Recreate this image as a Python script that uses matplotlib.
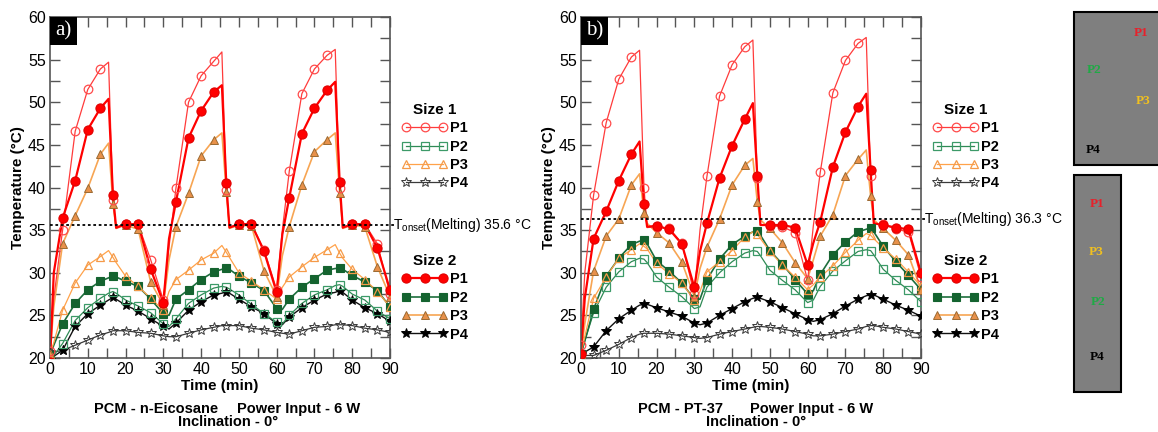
import numpy as np
import matplotlib.pyplot as plt
from matplotlib.lines import Line2D
from matplotlib.patches import Rectangle
from matplotlib.ticker import MultipleLocator

plt.rcParams['font.family'] = ['Liberation Sans', 'DejaVu Sans']

# marker times (one marker every 3.33 min) and extra line knots (peaks, plateau, steep rises)
t_mark = np.arange(28) * 10 / 3
t_extra = [1.0, 15.5, 17.5, 31.5, 45.5, 47.5, 61.5, 75.5, 77.5]

# ---- panel a: n-Eicosane ----
a_s1_p1 = [20.8, 35.0, 46.6, 51.5, 53.9, 38.5, 35.7, 35.7, 31.5, 26.8, 39.9, 50.0, 53.1, 54.8,
           39.7, 35.7, 35.7, 32.7, 28.0, 41.9, 51.0, 53.9, 55.5, 39.9, 35.7, 35.7, 33.4, 27.5]
a_s1_p1_ex = [27.0, 54.7, 35.2, 33.0, 55.9, 35.3, 35.0, 56.2, 35.3]
a_s1_p2 = [19.8, 21.7, 24.4, 25.9, 27.0, 27.8, 26.8, 26.1, 25.3, 24.0, 24.6, 26.4, 27.4, 28.2,
           28.3, 27.4, 26.3, 25.2, 24.2, 25.0, 26.4, 27.4, 28.0, 28.6, 27.5, 26.8, 25.5, 24.6]
a_s1_p2_ex = [20.3, 27.6, 27.6, 23.7, 28.4, 28.1, 24.0, 28.5, 28.4]
a_s1_p3 = [20.5, 25.6, 28.8, 30.9, 31.9, 31.8, 29.6, 28.4, 27.0, 25.6, 29.2, 30.3, 31.5, 32.3,
           32.4, 30.0, 29.0, 28.0, 26.9, 29.5, 30.7, 31.8, 32.7, 32.3, 30.4, 29.2, 27.8, 26.0]
a_s1_p3_ex = [21.8, 32.6, 31.2, 27.8, 33.2, 31.8, 28.3, 33.3, 31.7]
a_s1_p4 = [20.7, 20.9, 21.5, 22.1, 22.7, 23.2, 23.2, 23.0, 22.9, 22.6, 22.5, 22.9, 23.3, 23.6,
           23.8, 23.8, 23.5, 23.3, 23.0, 22.8, 23.2, 23.6, 23.7, 23.9, 23.8, 23.5, 23.3, 23.0]
a_s1_p4_ex = [20.7, 23.0, 23.2, 22.5, 23.8, 23.8, 22.9, 23.9, 23.9]

a_s2_p1 = [19.5, 36.4, 40.8, 46.8, 49.3, 39.1, 35.7, 35.7, 30.4, 26.5, 38.3, 45.8, 49.0, 51.2,
           40.5, 35.7, 35.7, 32.5, 27.7, 38.8, 46.3, 49.3, 51.4, 40.7, 35.7, 35.7, 32.9, 28.0]
a_s2_p1_ex = [30.0, 50.4, 35.3, 34.0, 52.0, 35.3, 34.5, 52.4, 35.3]
a_s2_p2 = [20.3, 24.0, 26.4, 28.0, 29.0, 29.6, 29.0, 28.4, 26.9, 25.2, 26.9, 28.0, 29.2, 30.1,
           30.5, 29.6, 28.8, 27.9, 25.8, 26.9, 28.3, 29.3, 30.3, 30.5, 29.7, 28.9, 27.9, 26.0]
a_s2_p2_ex = [21.5, 29.4, 29.5, 25.0, 30.4, 30.4, 25.7, 30.5, 30.4]
a_s2_p3 = [20.5, 33.4, 36.7, 39.9, 43.9, 38.1, 35.6, 35.1, 28.9, 26.2, 35.4, 39.3, 43.7, 45.6,
           39.5, 35.6, 35.5, 30.2, 27.2, 35.4, 40.3, 44.2, 45.6, 39.4, 35.6, 35.4, 30.7, 27.2]
a_s2_p3_ex = [26.0, 45.2, 35.2, 31.5, 46.4, 35.2, 32.0, 46.4, 35.2]
a_s2_p4 = [19.8, 20.9, 23.7, 25.2, 26.2, 27.1, 26.2, 25.5, 24.6, 23.7, 24.1, 25.6, 26.6, 27.4,
           27.8, 26.9, 26.0, 25.2, 24.0, 24.8, 25.9, 26.8, 27.5, 27.9, 26.8, 25.9, 25.2, 24.3]
a_s2_p4_ex = [20.2, 26.8, 26.9, 23.4, 27.6, 27.6, 23.9, 27.7, 27.7]

# ---- panel b: PT-37 ----
b_s1_p1 = [21.5, 39.1, 47.6, 52.7, 55.3, 40.0, 35.4, 35.2, 33.5, 27.5, 41.3, 50.7, 54.4, 56.5,
           41.1, 35.5, 35.4, 34.7, 29.1, 41.8, 51.1, 54.9, 56.9, 41.3, 35.7, 35.1, 34.8, 29.5]
b_s1_p1_ex = [30.0, 56.1, 35.3, 35.0, 57.3, 35.6, 35.5, 57.6, 35.8]
b_s1_p2 = [20.5, 25.3, 28.3, 30.1, 31.3, 31.6, 29.5, 28.3, 27.2, 25.8, 28.3, 30.0, 31.3, 32.3,
           32.5, 30.3, 29.1, 28.0, 26.5, 28.4, 30.2, 31.4, 32.5, 32.6, 30.4, 29.1, 28.0, 26.6]
b_s1_p2_ex = [22.0, 31.7, 31.2, 26.0, 32.6, 32.0, 26.8, 32.7, 32.1]
b_s1_p3 = [20.5, 27.0, 29.5, 31.7, 32.7, 33.1, 31.1, 29.9, 28.8, 26.8, 30.1, 31.3, 32.6, 34.2,
           34.5, 32.5, 30.9, 29.5, 28.0, 29.5, 30.8, 32.4, 33.8, 34.4, 32.9, 31.6, 30.1, 28.4]
b_s1_p3_ex = [22.5, 33.4, 32.8, 27.8, 34.8, 34.0, 28.6, 34.6, 34.0]
b_s1_p4 = [20.3, 20.3, 20.9, 21.6, 22.4, 22.9, 22.9, 22.8, 22.6, 22.4, 22.4, 22.8, 23.1, 23.4,
           23.7, 23.6, 23.4, 23.1, 22.8, 22.6, 22.8, 23.1, 23.4, 23.8, 23.6, 23.4, 23.1, 22.8]
b_s1_p4_ex = [20.3, 22.8, 22.9, 22.3, 23.6, 23.7, 22.6, 23.7, 23.8]

b_s2_p1 = [20.5, 34.0, 37.2, 40.8, 43.9, 38.1, 35.5, 35.1, 33.4, 28.3, 35.8, 41.1, 44.9, 48.0,
           41.4, 35.6, 35.6, 35.3, 30.9, 36.0, 42.4, 46.5, 49.5, 42.0, 35.6, 35.3, 35.1, 30.0]
b_s2_p1_ex = [27.0, 45.4, 35.4, 32.5, 49.9, 35.6, 33.5, 51.0, 35.8]
b_s2_p2 = [20.5, 25.7, 29.6, 31.7, 33.3, 33.8, 31.4, 30.2, 28.8, 26.9, 29.2, 31.6, 33.3, 34.3,
           34.9, 32.6, 31.0, 29.2, 27.5, 29.8, 32.1, 33.6, 34.8, 35.3, 33.1, 31.3, 29.7, 28.0]
b_s2_p2_ex = [22.0, 33.7, 33.4, 26.9, 34.8, 34.4, 27.9, 35.1, 34.8]
b_s2_p3 = [20.5, 30.2, 34.3, 36.3, 40.3, 37.0, 34.7, 33.5, 31.3, 27.2, 33.0, 36.3, 40.3, 42.6,
           38.3, 35.2, 33.5, 31.2, 29.3, 34.3, 36.8, 41.4, 43.3, 39.0, 35.2, 33.8, 32.1, 28.0]
b_s2_p3_ex = [24.0, 41.6, 35.8, 30.5, 43.4, 36.2, 31.5, 44.4, 36.2]
b_s2_p4 = [20.5, 21.3, 23.2, 24.6, 25.6, 26.3, 25.9, 25.4, 24.9, 24.1, 24.1, 25.0, 25.8, 26.6,
           27.1, 26.6, 25.9, 25.2, 24.5, 24.5, 25.2, 26.1, 26.9, 27.4, 26.9, 26.2, 25.6, 24.9]
b_s2_p4_ex = [20.7, 26.2, 26.3, 23.9, 27.0, 27.0, 24.3, 27.3, 27.4]

t_onset = [35.6, 36.3]
pcm_names = ["PCM - n-Eicosane", "PCM - PT-37"]
panel_tags = ["a)", "b)"]
labels = ["P1", "P2", "P3", "P4"]

# line / marker styles for each (size, probe)
styles = {
    "s1_p1": dict(color="#ff3b3b", lw=0.9, marker="o", mfc="none", mec="#ff4a4a", ms=6.2, mew=0.9),
    "s1_p2": dict(color="#2f8a55", lw=0.9, marker="s", mfc="none", mec="#3c9a68", ms=5.7, mew=0.9),
    "s1_p3": dict(color="#ffa24a", lw=0.9, marker="^", mfc="none", mec="#f59a48", ms=5.7, mew=0.9),
    "s1_p4": dict(color="#3a3a3a", lw=0.9, marker="*", mfc="none", mec="#3a3a3a", ms=7.8, mew=0.7),
    "s2_p1": dict(color="#ff0000", lw=1.6, marker="o", mfc="#ff0000", mec="#e00000", ms=6.6, mew=0.8),
    "s2_p2": dict(color="#1d6e3c", lw=1.2, marker="s", mfc="#14632f", mec="#14632f", ms=6.1, mew=0.8),
    "s2_p3": dict(color="#f7a553", lw=1.2, marker="^", mfc="#e8914a", mec="#9b6a32", ms=6.1, mew=0.7),
    "s2_p4": dict(color="#111111", lw=1.0, marker="*", mfc="#000000", mec="#000000", ms=7.8, mew=0.7),
}

panels = [
    {"s1_p1": (a_s1_p1, a_s1_p1_ex), "s1_p2": (a_s1_p2, a_s1_p2_ex),
     "s1_p3": (a_s1_p3, a_s1_p3_ex), "s1_p4": (a_s1_p4, a_s1_p4_ex),
     "s2_p1": (a_s2_p1, a_s2_p1_ex), "s2_p2": (a_s2_p2, a_s2_p2_ex),
     "s2_p3": (a_s2_p3, a_s2_p3_ex), "s2_p4": (a_s2_p4, a_s2_p4_ex)},
    {"s1_p1": (b_s1_p1, b_s1_p1_ex), "s1_p2": (b_s1_p2, b_s1_p2_ex),
     "s1_p3": (b_s1_p3, b_s1_p3_ex), "s1_p4": (b_s1_p4, b_s1_p4_ex),
     "s2_p1": (b_s2_p1, b_s2_p1_ex), "s2_p2": (b_s2_p2, b_s2_p2_ex),
     "s2_p3": (b_s2_p3, b_s2_p3_ex), "s2_p4": (b_s2_p4, b_s2_p4_ex)},
]

draw_order = ["s1_p4", "s2_p4", "s1_p2", "s2_p2", "s1_p3", "s2_p3", "s1_p1", "s2_p1"]

W, H = 1158, 432
fig = plt.figure(figsize=(W / 100, H / 100), dpi=100)

ax_left = [50, 581]
for k, data in enumerate(panels):
    ax = fig.add_axes([ax_left[k] / W, (H - 358) / H, 340 / W, 341 / H])

    for key in draw_order:
        mk, ex = data[key]
        st = styles[key]
        t_all = np.concatenate([t_mark, t_extra])
        y_all = np.concatenate([mk, ex])
        idx = np.argsort(t_all, kind="stable")
        ax.plot(t_all[idx], y_all[idx], color=st["color"], lw=st["lw"], zorder=2)
        ax.plot(t_mark, mk, ls="none", marker=st["marker"], mfc=st["mfc"], mec=st["mec"],
                ms=st["ms"], mew=st["mew"], zorder=3)

    # melting onset line, runs slightly past the right spine up to the label
    ax.plot([0, 91], [t_onset[k], t_onset[k]], ls=(0, (1.5, 1.5)), color="black", lw=1.3,
            clip_on=False, zorder=4)
    ax.text(90.8, t_onset[k], "T$_{\\mathregular{onset}}$(Melting) %.1f °C" % t_onset[k],
            fontsize=10, va="center", ha="left")

    ax.set_xlim(0, 90)
    ax.set_ylim(20, 60)
    ax.xaxis.set_major_locator(MultipleLocator(10))
    ax.xaxis.set_minor_locator(MultipleLocator(5))
    ax.yaxis.set_major_locator(MultipleLocator(5))
    ax.yaxis.set_minor_locator(MultipleLocator(2.5))
    ax.tick_params(which="both", direction="in", top=True, right=True, length=7, width=1,
                   color="#555555", labelsize=11.5, pad=3)
    for sp in ax.spines.values():
        sp.set_color("#555555")
        sp.set_linewidth(1.2)
    ax.set_xlabel("Time (min)", fontsize=11, fontweight="bold", labelpad=1)
    ax.set_ylabel("Temperature (°C)", fontsize=11, fontweight="bold", labelpad=2)

    # panel tag in a black box
    ax.add_patch(Rectangle((0, 1 - 28 / 341), 27 / 340, 28 / 341, transform=ax.transAxes,
                           fc="black", ec="none", zorder=5))
    ax.text(13.5 / 340, 1 - 14 / 341, panel_tags[k], transform=ax.transAxes, color="white",
            fontsize=15, family="Liberation Serif", ha="center", va="center", zorder=6)

    # legends
    h1, h2 = [], []
    for i in range(4):
        for key, hl in (("s1_p%d" % (i + 1), h1), ("s2_p%d" % (i + 1), h2)):
            st = styles[key]
            hl.append(Line2D([], [], color=st["color"], lw=st["lw"], marker=st["marker"],
                             mfc=st["mfc"], mec=st["mec"], ms=st["ms"], mew=st["mew"]))
    leg_kw = dict(loc="upper left", frameon=False, numpoints=3, handlelength=3.1,
                  handletextpad=0.2, labelspacing=0.3, borderaxespad=0,
                  prop=dict(weight="bold", size=10.5),
                  title_fontproperties=dict(weight="bold", size=11))
    leg1 = ax.legend(h1, labels, title="Size 1", bbox_to_anchor=(1.018, 0.765), **leg_kw)
    ax.add_artist(leg1)
    ax.legend(h2, labels, title="Size 2", bbox_to_anchor=(1.018, 0.322), **leg_kw)

# bottom captions
cap = [(156, 299, 228), (681, 812, 756)]
for k in range(2):
    fig.text(cap[k][0] / W, 1 - 409 / H, pcm_names[k], ha="center", va="center",
             fontsize=10.5, fontweight="bold")
    fig.text(cap[k][1] / W, 1 - 409 / H, "Power Input - 6 W", ha="center", va="center",
             fontsize=10.5, fontweight="bold")
    fig.text(cap[k][2] / W, 1 - 422 / H, "Inclination - 0°", ha="center", va="center",
             fontsize=10.5, fontweight="bold")

# probe layout sketches on the right
fig.patches.append(Rectangle((1074 / W, 1 - 165 / H), 100 / W, 153 / H, transform=fig.transFigure,
                             fc="#7f7f7f", ec="black", lw=1.5))
fig.patches.append(Rectangle((1074 / W, 1 - 392 / H), 47 / W, 217 / H, transform=fig.transFigure,
                             fc="#7f7f7f", ec="black", lw=1.5))
probe_txt = [("P1", 1141, 33, "#e8202a"), ("P2", 1094, 70, "#1faa45"), ("P3", 1143, 101, "#f0c020"),
             ("P4", 1093, 150, "black"), ("P1", 1097, 204, "#e8202a"), ("P3", 1096, 252, "#f0c020"),
             ("P2", 1098, 302, "#1faa45"), ("P4", 1097, 357, "black")]
for s, x, y, c in probe_txt:
    fig.text(x / W, 1 - y / H, s, color=c, fontsize=9.5, fontweight="bold",
             family="Liberation Serif", ha="center", va="center")

fig.savefig("out.png", dpi=100)
